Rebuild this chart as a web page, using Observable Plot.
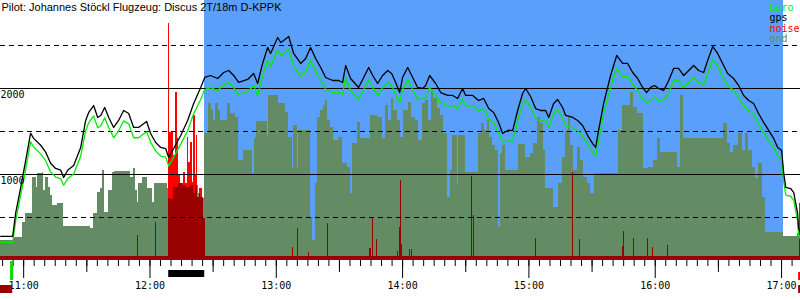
<!DOCTYPE html>
<html>
<head>
<meta charset="utf-8">
<script src="https://cdn.jsdelivr.net/npm/d3@7"></script>
<script src="https://cdn.jsdelivr.net/npm/@observablehq/plot@0.6"></script>
<style>
  html, body { margin: 0; padding: 0; background: #fff; }
  #chart svg { display: block; }
</style>
</head>
<body>
<div id="chart"></div>
<script>
// ---------- texts ----------
const title = "Pilot: Johannes Stöckl Flugzeug: Discus 2T/18m D-KPPK";
const legendLabels = ["baro", "gps", "noise", "gnd"];
const hourTicks = [0, 60, 120, 180, 240, 300, 360];           // minutes after 11:00
const hourLabels = ["11:00", "12:00", "13:00", "14:00", "15:00", "16:00", "17:00"];
const altLabels = [1000, 2000];
const solidLevels = [1000, 2000];
const dashedLevels = [500, 1500, 2500];

// ---------- time window (minutes after 11:00) ----------
const timeDomain = [-11, 369];
const altDomain = [0, 3023];
const taskStart = [86];      // blue window
const taskEnd = [361];

// ---------- flight track ----------
const trackTime = [
  -10.9, -5.2, -3.8, -1.4, 0.95, 3.3, 4.75, 8.1, 10.45, 12.8,
  15.2, 17.6, 19, 20.9, 23.75, 27.1, 29.45, 30.9, 33.25, 35.15,
  36.6, 38.5, 40.4, 42.75, 45.1, 47.5, 49.9, 52.25, 54.6, 58.4,
  60.3, 62.7, 65.1, 67.45, 68.9, 71.25, 74.6, 77.9, 80.75, 84.1,
  86, 88.8, 92.15, 95, 97.4, 99.75, 102.1, 106.4, 109.25, 111.15,
  113.5, 115.9, 117.3, 120.65, 122.1, 123.5, 125.9, 128.25, 131.6, 133.95,
  136.3, 138.7, 141.1, 143.45, 146.8, 149.6, 151.5, 152.95, 155.3, 159.1,
  161.5, 163.9, 165.8, 168.15, 170.5, 172.9, 174.8, 176.7, 178.6, 180,
  182.4, 184.8, 187.15, 189.5, 190.95, 192.85, 195.7, 198.1, 201.4, 203.8,
  206.15, 208.5, 209.95, 213.3, 216.1, 218.5, 220.9, 223.25, 225.6, 227.5,
  229.9, 232.3, 234.65, 237, 238.45, 240.8, 243.2, 245.6, 247.95, 249.4,
  251.75, 253.65, 256, 257.45, 260.8, 263.15, 265.5, 267.9, 270.3, 271.7,
  273.1, 275.5, 278.8, 281.7, 284.5, 286.9, 289.3, 291.65, 294, 295.9,
  297.8, 299.7, 301.6, 304, 306.4, 308.75, 311.1, 313.5, 315.9, 318.25,
  320.6, 323, 324.9, 327.3, 329.65, 332, 334.4, 337.25, 339.6, 342,
  344.4, 346.75, 349.1, 351.5, 353.9, 356.25, 358.15, 360.05, 361, 362,
  364.3, 365.75, 367.65, 368.1, 369.1
];
const gpsAlt = [
  280, 280, 550, 850, 1160, 1480, 1420, 1340, 1260, 1130,
  1070, 1050, 965, 1050, 1105, 1314, 1628, 1721, 1802, 1663,
  1686, 1779, 1663, 1547, 1628, 1744, 1709, 1547, 1547, 1616,
  1477, 1372, 1314, 1302, 1198, 1302, 1453, 1628, 1826, 2012,
  2128, 2151, 2116, 2186, 2209, 2151, 2070, 2105, 2174, 2058,
  2291, 2477, 2407, 2593, 2535, 2558, 2605, 2407, 2291, 2349,
  2477, 2349, 2244, 2128, 2093, 2093, 2070, 2267, 2116, 2012,
  2128, 2244, 2151, 2058, 2151, 2209, 2174, 2070, 1953, 2128,
  2244, 2128, 2012, 2000, 2035, 2151, 2058, 1953, 1919, 1919,
  1884, 2000, 1919, 1919, 1860, 1884, 1767, 1721, 1605, 1477,
  1512, 1512, 1744, 1942, 2000, 1907, 1767, 1744, 1744, 1663,
  1826, 1872, 1779, 1686, 1663, 1628, 1570, 1453, 1360, 1314,
  1512, 1826, 2151, 2384, 2291, 2291, 2186, 2116, 2012, 1953,
  2012, 2035, 2000, 1977, 2093, 2233, 2233, 2151, 2209, 2267,
  2209, 2186, 2326, 2488, 2407, 2291, 2174, 2116, 2035, 1919,
  1860, 1826, 1709, 1605, 1512, 1419, 1314, 1279, 1023, 849,
  837, 791, 547, 372, 314
];
const baroAlt = [
  210, 210, 460, 760, 1060, 1380, 1320, 1240, 1160, 1030,
  970, 950, 875, 950, 1005, 1214, 1508, 1601, 1682, 1543,
  1566, 1659, 1543, 1427, 1508, 1624, 1589, 1427, 1427, 1496,
  1377, 1272, 1214, 1202, 1098, 1202, 1353, 1508, 1706, 1872,
  1988, 2011, 1976, 2046, 2069, 2011, 1930, 1965, 2034, 1918,
  2151, 2327, 2257, 2443, 2385, 2408, 2455, 2257, 2141, 2199,
  2327, 2199, 2104, 1988, 1953, 1953, 1930, 2127, 1976, 1872,
  1988, 2104, 2011, 1918, 2011, 2069, 2034, 1930, 1833, 1988,
  2104, 1988, 1872, 1880, 1895, 2011, 1918, 1833, 1799, 1799,
  1764, 1880, 1799, 1799, 1740, 1764, 1647, 1601, 1485, 1377,
  1392, 1392, 1624, 1822, 1870, 1787, 1647, 1624, 1624, 1543,
  1706, 1752, 1659, 1566, 1543, 1508, 1450, 1353, 1260, 1214,
  1392, 1706, 2011, 2234, 2141, 2141, 2046, 1976, 1872, 1833,
  1872, 1895, 1860, 1857, 1953, 2093, 2093, 2011, 2069, 2127,
  2069, 2046, 2176, 2338, 2257, 2141, 2034, 1976, 1895, 1799,
  1740, 1706, 1589, 1485, 1392, 1319, 1214, 1179, 923, 759,
  747, 701, 457, 302, 244
];

// ---------- ground elevation (steps) ----------
const gndTime = [
  -11, -4.75, -0.5, 0.95, 4.3, 6.2, 6.65, 9.0, 9.5, 10.45,
  11.9, 12.8, 13.8, 16.15, 19.0, 31.8, 33.25, 35.15, 36.6, 37.5,
  38.5, 40.4, 42.3, 43.0, 50.8, 52.25, 53.2, 54.15, 54.6, 56.5,
  58.9, 61.3, 62.2, 68.4, 68.9, 69.8, 71.25, 73.6, 75.5, 76.95,
  79.3, 80.75, 81.7, 83.1, 84.1, 85.0, 86.0, 87.9, 89.3, 90.25,
  91.2, 92.6, 93.6, 96.9, 98.3, 100.7, 102.1, 104.5, 108.8, 109.7,
  110.7, 115.9, 116.4, 121.1, 124.45, 125.9, 127.8, 128.25, 130.15, 130.6,
  136.3, 137.3, 138.7, 139.65, 141.1, 142.5, 143.45, 144.4, 145.8, 147.25,
  149.6, 151.5, 153.9, 155.3, 156.3, 158.65, 160.1, 164.8, 168.15, 170.5,
  171.95, 173.4, 174.8, 175.75, 177.65, 179.1, 180.5, 182.9, 184.3, 186.2,
  187.6, 189.5, 190.95, 192.4, 193.8, 194.75, 196.65, 198.1, 199.5, 201.4,
  202.8, 203.8, 206.15, 206.6, 209.95, 216.1, 217.55, 219.0, 220.4, 221.35,
  222.8, 224.2, 225.6, 226.6, 227.5, 228.95, 235.1, 238.45, 240.8, 242.25,
  244.15, 245.6, 247.0, 247.95, 251.75, 254.1, 256.0, 257.45, 258.9, 259.8,
  261.25, 263.15, 264.6, 266.0, 267.9, 269.3, 271.2, 282.6, 284.5, 288.3,
  289.75, 291.65, 294.5, 296.9, 299.25, 301.15, 302.6, 310.65, 312.1, 313.5,
  332.5, 334.4, 335.8, 337.25, 339.6, 341.5, 342.95, 344.4, 346.3, 347.7,
  349.1, 351.0, 352.45, 361.0, 367.65, 369.5
];
const gndAlt = [
  230, 270, 440, 550, 960, 850, 1010, 1020, 810, 960,
  850, 760, 640, 660, 400, 370, 550, 790, 840, 1050,
  560, 810, 1020, 1030, 960, 1070, 810, 670, 900, 960,
  840, 670, 900, 840, 720, 710, 850, 900, 870, 850,
  870, 780, 870, 780, 730, 720, 1480, 1830, 1740, 1630,
  1830, 1740, 1630, 1830, 1710, 1660, 1160, 1280, 1010, 1420,
  1620, 1430, 1920, 1830, 1720, 1430, 1080, 1570, 1080, 1510,
  500, 230, 900, 1660, 1740, 1800, 1860, 1630, 1550, 1400,
  1430, 1130, 1080, 780, 1360, 1600, 1420, 1690, 1660, 1420,
  1800, 1630, 1880, 1740, 1630, 1430, 1740, 1840, 1660, 1630,
  1400, 1830, 1860, 1630, 1980, 1880, 1770, 1690, 1480, 730,
  1050, 1450, 900, 1450, 1020, 1480, 1590, 1510, 1630, 1430,
  1340, 1280, 380, 1240, 1340, 1050, 1350, 1200, 1240, 1360,
  1660, 1590, 1280, 840, 620, 900, 1200, 1510, 1660, 1340,
  1050, 1310, 1160, 960, 900, 780, 1010, 1510, 1800, 1950,
  1780, 1710, 1070, 1080, 1160, 1420, 1260, 1080, 1920, 1420,
  1590, 1360, 1260, 1340, 1480, 1280, 1480, 1280, 1080, 950,
  1130, 730, 330, 280, 310, 310
];

// ---------- engine noise ----------
const noiseBase = 45;
const spikeTime = [54.1, 62.6, 127.7, 130.1, 135.3, 144.3, 164.3, 164.8, 165.7, 167.6,
  177.6, 178.5, 179.0, 179.5, 183.5, 184.0, 212.7, 213.6, 243.1, 260.7,
  264.0, 284.4, 284.9, 289.6, 296.3, 298.7, 305.8, 368.3];
const spikeLevel = [290, 440, 150, 370, 90, 430, 140, 140, 490, 240,
  110, 380, 930, 190, 130, 130, 980, 520, 260, 1020,
  240, 160, 340, 250, 260, 150, 170, 660];
const engineTime = [68.6, 69.35, 71.25, 72.2, 73.15, 73.6, 74.6, 76, 76.95, 77.9,
  78.4, 79.3, 80.3, 80.75, 81.7, 82.2, 82.65, 83.6, 85, 85.5, 86.45];
const engineLevel = [2750, 1490, 1220, 1950, 1420, 990, 900, 1020, 900, 1430,
  1140, 1370, 910, 1690, 1000, 1450, 730, 840, 730, 490, 45];

// ---------- event markers below the axis ----------
const takeoffStart = [-6.2], takeoffEnd = [-4.75];
const engineRunStart = [68.9], engineRunEnd = [86];
const lateEngineStart = [368.1], lateEngineEnd = [369.5];
const onGroundStart = [-11, 368.1], onGroundEnd = [-5.2, 369.5];

// ---------- colours ----------
const C = { baro: "#00ee00", gps: "#000000", noise: "#ff0000", gnd: "#648c64",
            noiseDark: "#990000", task: "#5a9ffa" };
const legendColors = [C.baro, C.gps, C.noise, C.gnd];

// ---------- derived tables ----------
const track = trackTime.map((t, i) => ({t, gps: gpsAlt[i], baro: baroAlt[i]}));
const gnd = gndTime.map((t, i) => ({t, v: gndAlt[i]}));
function stepAt(series, t) {
  let v = 0;
  for (const d of series) { if (d.t <= t) v = d.v; else break; }
  return v;
}
// continuous noise (baseline + engine run) as a step series
const noise = [{t: timeDomain[0], v: noiseBase}, ...engineTime.map((t, i) => ({t, v: engineLevel[i]})),
               {t: timeDomain[1] + 1, v: noiseBase}];
const breaks = Array.from(new Set([...noise.map(d => d.t), ...gnd.map(d => d.t)])).sort((a, b) => a - b);
const noiseUnderGnd = breaks.map(t => ({t, v: Math.min(stepAt(noise, t), stepAt(gnd, t))}));
// isolated spikes: dark part inside the ground profile, bright part above it
const spikes = spikeTime.map((t, i) => {
  const g = stepAt(gnd, t);
  return {t, v: spikeLevel[i], under: Math.min(spikeLevel[i], g)};
});
const spikesAbove = spikes.filter(d => d.v > d.under);

const rect = (s, e) => s.map((d, i) => ({s: d, e: e[i]}));
const row = (top, bottom) => ({y1: () => 0, y2: () => 0, insetTop: top, insetBottom: -bottom});

const minorTicks = d3.range(-10, 370, 5);
const halfTicks = d3.range(-30, 370, 60).filter(d => d > timeDomain[0]);
const mono = "DejaVu Sans Mono";

const chart = Plot.plot({
  width: 800,
  height: 300,
  marginTop: 0,
  marginRight: 0,
  marginBottom: 40,
  marginLeft: 0,
  style: {background: "white", overflow: "visible"},
  x: {domain: timeDomain, label: null},
  y: {domain: altDomain, axis: null, label: null},
  marks: [
    Plot.rect(rect(taskStart, taskEnd), {x1: "s", x2: "e", fill: C.task, shapeRendering: "crispEdges"}),
    Plot.areaY(noise, {x: "t", y: "v", curve: "step-after", fill: C.noise, shapeRendering: "crispEdges", clip: true}),
    Plot.areaY(gnd, {x: "t", y: "v", curve: "step-after", fill: C.gnd, shapeRendering: "crispEdges", clip: true}),
    Plot.areaY(noiseUnderGnd, {x: "t", y: "v", curve: "step-after", fill: C.noiseDark, shapeRendering: "crispEdges", clip: true}),
    Plot.ruleX(spikes, {x: "t", y1: d => 0, y2: "under", stroke: C.noiseDark, strokeWidth: 1, shapeRendering: "crispEdges"}),
    Plot.ruleX(spikesAbove, {x: "t", y1: "under", y2: "v", stroke: C.noise, strokeWidth: 1, shapeRendering: "crispEdges"}),
    Plot.ruleY(solidLevels, {stroke: "black", strokeWidth: 1}),
    Plot.ruleY(dashedLevels, {stroke: "black", strokeWidth: 1, strokeDasharray: "5,4"}),
    Plot.line(track, {x: "t", y: "baro", stroke: C.baro, strokeWidth: 1.3, clip: true}),
    Plot.line(track, {x: "t", y: "gps", stroke: C.gps, strokeWidth: 1.3, clip: true}),
    Plot.text(altLabels, {y: d => d, text: d => String(d), frameAnchor: "left", textAnchor: "start",
      lineAnchor: "bottom", dx: 0, dy: 9.5, fontFamily: mono, fontSize: 10, fill: "black"}),
    Plot.text([title], {frameAnchor: "top-left", textAnchor: "start", lineAnchor: "top",
      dx: 1, dy: 2.5, fontFamily: "Liberation Sans", fontSize: 11, fill: "black"}),
    ...legendLabels.map((s, i) => Plot.text([s], {frameAnchor: "top-right", textAnchor: "start",
      lineAnchor: "bottom", dx: -31, dy: 10 + i * 10.5, fontFamily: mono, fontSize: 10, fill: legendColors[i]})),
    Plot.axisX({ticks: minorTicks, tickSize: 6, tickFormat: () => "", label: null}),
    Plot.axisX({ticks: halfTicks, tickSize: 12, tickFormat: () => "", label: null}),
    Plot.axisX({ticks: hourTicks, tickSize: 18, tickPadding: 3, label: null,
      tickFormat: d => hourLabels[hourTicks.indexOf(d)], fontFamily: mono, fontSize: 10}),
    Plot.rect(rect(takeoffStart, takeoffEnd), {x1: "s", x2: "e", ...row(1, 20), fill: "#00dd00"}),
    Plot.rect(rect(engineRunStart, engineRunEnd), {x1: "s", x2: "e", ...row(10, 17), fill: "black"}),
    Plot.rect(rect(lateEngineStart, lateEngineEnd), {x1: "s", x2: "e", ...row(12, 20), fill: C.noise}),
    Plot.rect(rect(onGroundStart, onGroundEnd), {x1: "s", x2: "e", ...row(25, 33), fill: C.noiseDark})
  ]
});
document.getElementById("chart").appendChild(chart);
</script>
</body>
</html>
